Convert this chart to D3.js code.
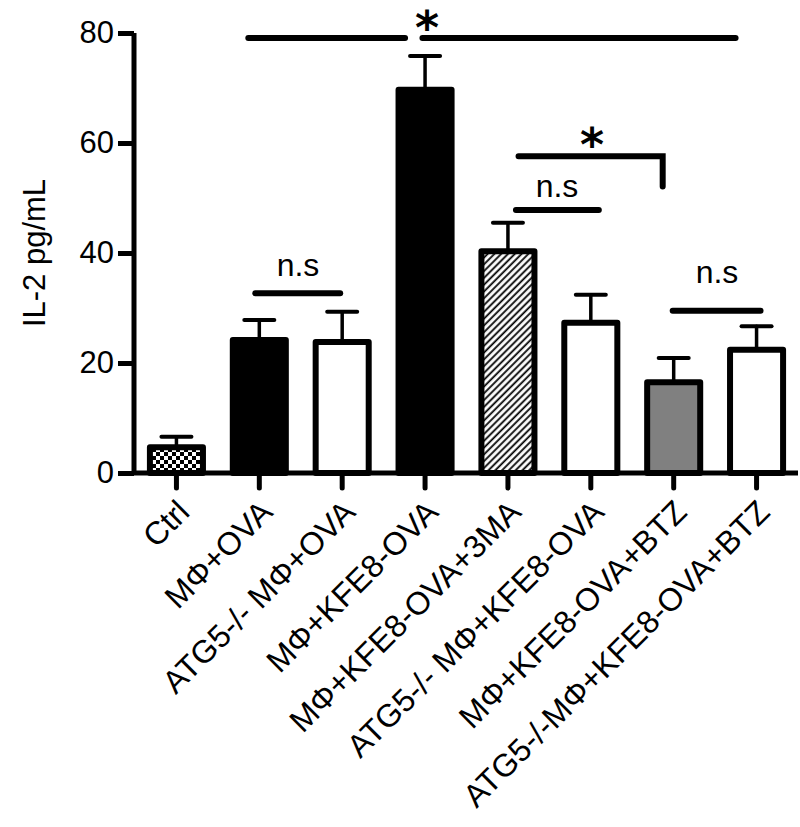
<!DOCTYPE html>
<html><head><meta charset="utf-8">
<script src="https://cdn.jsdelivr.net/npm/d3@7"></script>
<style>body{margin:0;background:#fff}</style>
</head><body>
<svg id="c" width="800" height="827"></svg>
<script>
// ---- data ----
const categories = ["Ctrl","MΦ+OVA","ATG5-/- MΦ+OVA","MΦ+KFE8-OVA","MΦ+KFE8-OVA+3MA","ATG5-/- MΦ+KFE8-OVA","MΦ+KFE8-OVA+BTZ","ATG5-/-MΦ+KFE8-OVA+BTZ"];
const values = [4.7, 24.2, 23.8, 69.7, 40.3, 27.3, 16.5, 22.4];
const errors = [1.9, 3.6, 5.5, 6.1, 5.2, 5.1, 4.4, 4.3];
const yTicks = [0, 20, 40, 60, 80];
const yLabel = "IL-2 pg/mL";
// significance annotations: from, to, level (data units), label
const brackets = [
  {from: 1, to: 3, y: 79.1},
  {from: 3, to: 7, y: 79.1},
  {from: 4, to: 6, y: 57.6, drop: 52.1},
  {from: 1, to: 2, y: 32.7},
  {from: 4, to: 5, y: 47.8},
  {from: 6, to: 7, y: 29.5}
];
const sigLabels = ["*", "*", "n.s", "n.s", "n.s"];

// ---- styles ----
const barFill = ["url(#checker)", "#000", "#fff", "#000", "url(#hatch)", "#fff", "#808080", "#fff"];
const FONT = "'Liberation Sans', Arial, Helvetica, sans-serif";

const svg = d3.select("#c");
const defs = svg.append("defs");
const chk = defs.append("pattern").attr("id","checker").attr("patternUnits","userSpaceOnUse")
  .attr("width",8).attr("height",8);
chk.append("rect").attr("width",8).attr("height",8).attr("fill","#fff");
chk.append("rect").attr("width",4).attr("height",4).attr("fill","#000");
chk.append("rect").attr("x",4).attr("y",4).attr("width",4).attr("height",4).attr("fill","#000");
const ht = defs.append("pattern").attr("id","hatch").attr("patternUnits","userSpaceOnUse")
  .attr("width",4.8).attr("height",4.8).attr("patternTransform","rotate(45)");
ht.append("rect").attr("width",4.8).attr("height",4.8).attr("fill","#fff");
ht.append("line").attr("x1",1.2).attr("x2",1.2).attr("y1",0).attr("y2",4.8)
  .attr("stroke","#000").attr("stroke-width",1.8);

const x = d3.scaleBand().domain(categories).range([135, 798]).paddingInner(0.36).paddingOuter(0.18);
const y = d3.scaleLinear().domain([0, 80]).range([473, 33]);
const cx = i => x(categories[i]) + x.bandwidth()/2;

// bars
svg.append("g").selectAll("rect").data(categories).join("rect")
  .attr("x", d => x(d)).attr("width", x.bandwidth())
  .attr("y", (d,i) => y(values[i])).attr("height", (d,i) => y(0) - y(values[i]))
  .attr("fill", (d,i) => barFill[i]).attr("stroke","#000").attr("stroke-width",6)
  .attr("stroke-linejoin","round");

// error bars
const eg = svg.append("g").attr("stroke","#000").attr("stroke-linecap","round");
categories.forEach((c,i) => {
  const xc = cx(i);
  eg.append("line").attr("x1",xc).attr("x2",xc).attr("y1",y(values[i])-3).attr("y2",y(values[i]+errors[i]))
    .attr("stroke-width",3.5);
  eg.append("line").attr("x1",xc-15).attr("x2",xc+15).attr("y1",y(values[i]+errors[i])).attr("y2",y(values[i]+errors[i]))
    .attr("stroke-width",4);
});

// axes
const yAxis = d3.axisLeft(y).tickValues(yTicks).tickSize(16).tickPadding(4).tickSizeOuter(0);
const gy = svg.append("g").attr("transform","translate(134,0)").call(yAxis);
gy.select(".domain").attr("stroke-width",5).attr("d", `M0,${y(80)}V${y(0)+2}`);
gy.selectAll(".tick line").attr("stroke-width",5);
gy.selectAll(".tick text").attr("font-family",FONT).attr("font-size",31).attr("fill","#000");

const xAxis = d3.axisBottom(x).tickSize(15).tickSizeOuter(0);
const gx = svg.append("g").attr("transform",`translate(0,${y(0)})`).call(xAxis);
gx.select(".domain").attr("stroke-width",5).attr("d","M132,0H798");
gx.selectAll(".tick line").attr("stroke-width",5).attr("stroke-linecap","round");
gx.selectAll(".tick text").attr("font-family",FONT).attr("font-size",32).attr("fill","#000")
  .attr("text-anchor","end").attr("dy","0.35em").attr("y",0)
  .attr("transform","translate(7,33) rotate(-45)");

// y label
svg.append("text").attr("transform","translate(45,253) rotate(-90)")
  .attr("text-anchor","middle").attr("font-family",FONT).attr("font-size",31).text(yLabel);

// brackets
const offs = [[-11,-20],[-2.6,-21],[10.6,-11],[-4,-2],[8,8],[-1,4]];
const bg = svg.append("g").attr("stroke","#000").attr("stroke-width",6).attr("stroke-linecap","round").attr("fill","none");
brackets.forEach((b,k) => {
  const x1 = cx(b.from)+offs[k][0], x2 = cx(b.to)+offs[k][1];
  let d = `M${x1},${y(b.y)}H${x2}`;
  if (b.drop !== undefined) d += `V${y(b.drop)}`;
  bg.append("path").attr("d", d);
});
// labels
const lab = svg.append("g").attr("fill","#000").attr("text-anchor","middle");
const labPos = [[427,44],[592,161],[298,276],[557,197],[717,283]];
sigLabels.forEach((t,k) => {
  const star = t === "*";
  lab.append("text").attr("x",labPos[k][0]).attr("y",labPos[k][1])
    .attr("font-family", star ? "'DejaVu Sans', sans-serif" : FONT)
    .attr("font-weight", star ? "bold" : "normal")
    .attr("font-size", star ? 46 : 32).text(t);
});
</script>
</body></html>
